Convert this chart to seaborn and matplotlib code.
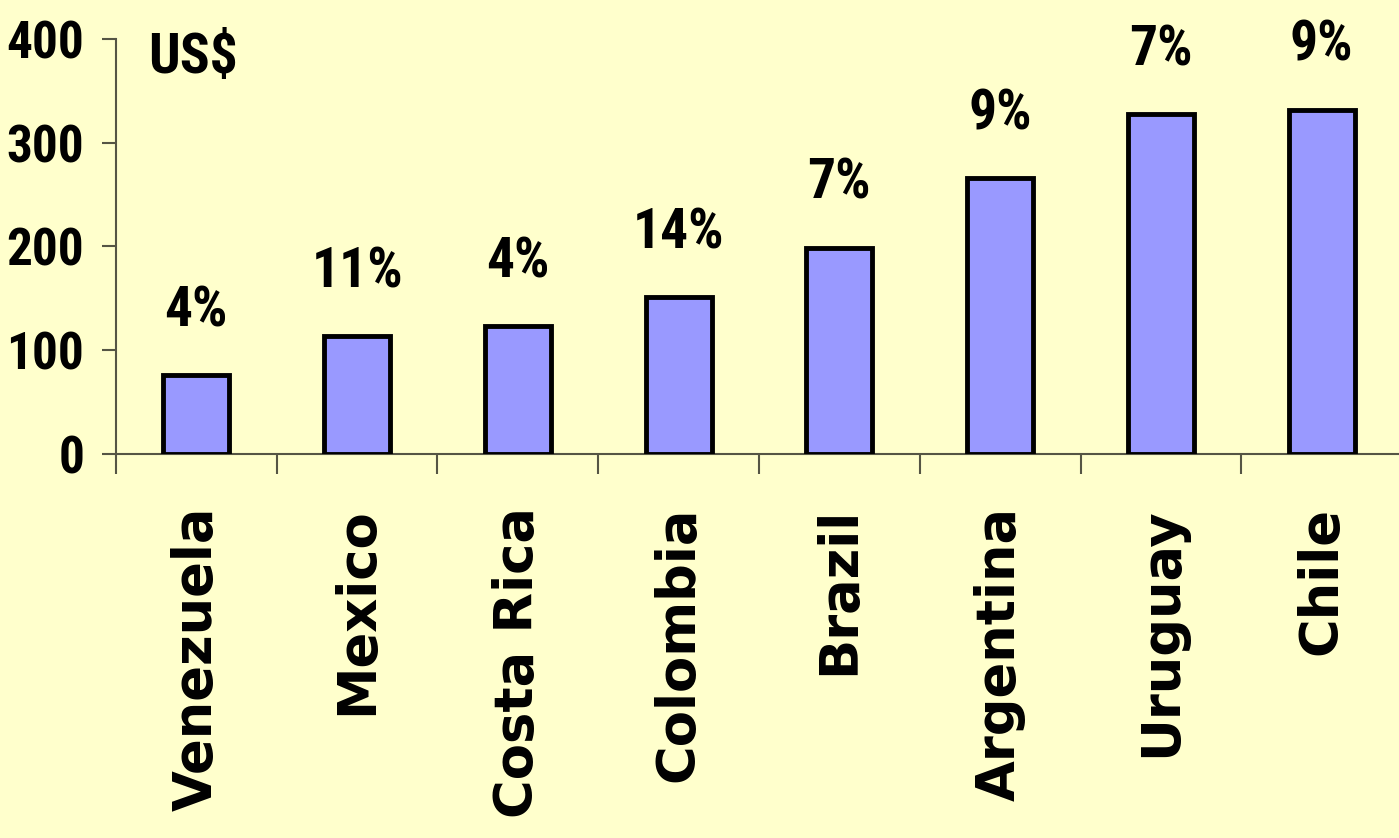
import matplotlib
matplotlib.use("Agg")
import matplotlib.pyplot as plt
from matplotlib import font_manager
from matplotlib.ticker import FixedLocator, NullFormatter
import seaborn as sns
import pandas as pd

# Data
countries = ["Venezuela", "Mexico", "Costa Rica", "Colombia",
             "Brazil", "Argentina", "Uruguay", "Chile"]
spending_usd = [76, 114, 123, 151, 199, 266, 328, 332]
share_labels = ["4%", "11%", "4%", "14%", "7%", "9%", "7%", "9%"]
y_ticks = [0, 100, 200, 300, 400]

BG = "#FFFFCC"
BAR = "#9999FF"
AXIS = "#555544"

# pick a condensed face for the numbers when one is available
installed = {f.name for f in font_manager.fontManager.ttflist}
narrow = next((n for n in ["Liberation Sans Narrow", "Roboto Condensed",
                           "Open Sans Condensed", "DejaVu Sans Condensed",
                           "Liberation Sans"] if n in installed), "DejaVu Sans")
wide = "DejaVu Sans"

sns.set_theme(style="white")
plt.rcParams["font.family"] = [narrow, "DejaVu Sans"]
plt.rcParams["text.color"] = "black"
plt.rcParams["xtick.labelcolor"] = "black"
plt.rcParams["ytick.labelcolor"] = "black"

W, H = 1399, 838
fig = plt.figure(figsize=(W / 100, H / 100), dpi=100, facecolor=BG)
left, right, bottom, top = 116, 1402, 838 - 454, 838 - 39
ax = fig.add_axes([left / W, bottom / H, (right - left) / W, (top - bottom) / H])
ax.set_facecolor(BG)

df = pd.DataFrame({"country": countries, "usd": spending_usd})
sns.barplot(data=df, x="country", y="usd", color=BAR, saturation=1,
            edgecolor="black", linewidth=3.5, width=0.41, ax=ax, zorder=3)

ax.set_xlim(-0.5, len(countries) - 0.5)
ax.set_ylim(0, 400)
ax.set_xlabel("")
ax.set_ylabel("")

for s in ["top", "right"]:
    ax.spines[s].set_visible(False)
for s in ["left", "bottom"]:
    ax.spines[s].set_color(AXIS)
    ax.spines[s].set_linewidth(1.5)

num_font = dict(fontsize=40, fontweight="bold", fontstretch="condensed",
                family=[narrow, "DejaVu Sans"], color="black")

# y axis
ax.set_yticks(y_ticks)
ax.set_yticklabels([str(v) for v in y_ticks], **{**num_font, "fontsize": 37})
ax.tick_params(axis="y", which="major", direction="out", length=10,
               width=1.5, color=AXIS, pad=13, left=True)

# x axis: boundary ticks, labels at category centres
ax.xaxis.set_major_locator(FixedLocator([i - 0.5 for i in range(len(countries) + 1)]))
ax.xaxis.set_major_formatter(NullFormatter())
ax.xaxis.set_minor_locator(FixedLocator(list(range(len(countries)))))
ax.set_xticklabels(countries, minor=True, rotation=90, fontsize=38,
                   fontweight="bold", family=[wide], color="black",
                   va="top", ha="center")
ax.tick_params(axis="x", which="major", direction="out", length=14.4,
               width=1.5, color=AXIS, bottom=True)
ax.tick_params(axis="x", which="minor", length=0, pad=38, bottom=True)

# percentage labels above the bars
for i, (v, lab) in enumerate(zip(spending_usd, share_labels)):
    ax.annotate(lab, xy=(i, v), xytext=(0, 35), textcoords="offset points",
                ha="center", va="baseline", annotation_clip=False, **num_font)

ax.text(-0.3, 367, "US$", ha="left", va="baseline", **num_font)

fig.savefig("out.png", dpi=100, facecolor=BG)
